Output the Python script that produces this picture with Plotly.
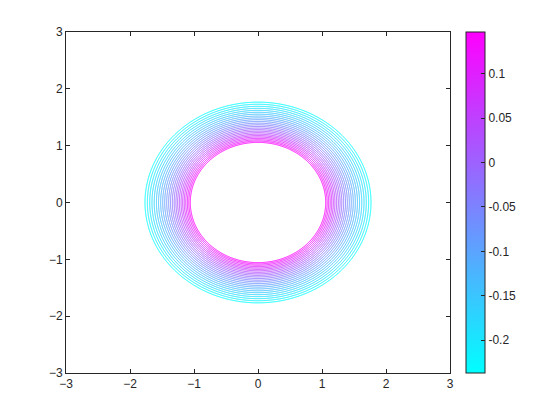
import numpy as np
import plotly.graph_objects as go

# Radial profile (radius -> contour value)
ring_radius = [0.0, 1.0, 1.03, 1.1, 1.2, 1.3, 1.4, 1.5, 1.6, 1.7, 1.77, 2.0, 4.5]
ring_value = [0.50, 0.165, 0.145, 0.0994, 0.0392, -0.0163, -0.0677, -0.1155, -0.1603, -0.2023, -0.2302, -0.315, -0.90]

level_start = -0.2285
level_end = 0.140
level_step = 0.0148
color_min = -0.237
color_max = 0.147
cbar_ticks = [-0.2, -0.15, -0.1, -0.05, 0, 0.05, 0.1]
cbar_ticktext = ["-0.2", "-0.15", "-0.1", "-0.05", "0", "0.05", "0.1"]
axis_ticks = [-3, -2, -1, 0, 1, 2, 3]

cool = [[0, "rgb(0,255,255)"], [1, "rgb(255,0,255)"]]

xs = np.linspace(-3, 3, 801)
ys = np.linspace(-3, 3, 801)
X, Y = np.meshgrid(xs, ys)
R = np.sqrt(X**2 + Y**2)
Z = np.interp(R, ring_radius, ring_value)

font = dict(family="Liberation Sans, Arial, sans-serif", size=12, color="#262626")

fig = go.Figure()
fig.add_trace(go.Contour(
    x=xs, y=ys, z=Z, autocontour=False,
    contours=dict(coloring="lines", start=level_start, end=level_end, size=level_step),
    colorscale=cool,
    line=dict(width=1), showscale=False, hoverinfo="skip",
))
fig.add_trace(go.Scatter(
    x=[0], y=[0], mode="markers", hoverinfo="skip", showlegend=False,
    marker=dict(size=0.1, opacity=0, color=[0], colorscale=cool,
                cmin=color_min, cmax=color_max, showscale=True,
                colorbar=dict(x=(458 - 58) / 384, xanchor="left", xref="paper",
                              y=0.5, yanchor="middle", len=1.0, lenmode="fraction",
                              thickness=19, thicknessmode="pixels",
                              outlinewidth=1, outlinecolor="#262626",
                              ticks="inside", ticklen=4, tickcolor="#262626",
                              tickvals=cbar_ticks, ticktext=cbar_ticktext,
                              tickfont=font, xpad=0, ypad=0)),
))

axis_common = dict(range=[-3, 3], tickvals=axis_ticks, ticks="inside", ticklen=4,
                   tickcolor="#262626", showline=True, linecolor="#262626", linewidth=1,
                   mirror="ticks", showgrid=False, zeroline=False, tickfont=font)
fig.update_layout(
    width=560, height=420,
    margin=dict(l=58, r=118, t=24, b=55),
    paper_bgcolor="white", plot_bgcolor="white",
    xaxis=dict(**axis_common),
    yaxis=dict(**axis_common),
    showlegend=False,
    font=font,
)
fig.write_html("out.html")
